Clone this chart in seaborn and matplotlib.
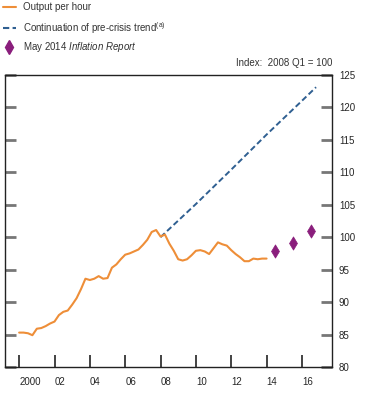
import numpy as np
import pandas as pd
import matplotlib.pyplot as plt
import seaborn as sns
from matplotlib.lines import Line2D

# Output per hour, quarterly 2000 Q1 - 2014 Q1 (index 2008 Q1 = 100)
output_per_hour = [
    85.3, 85.3, 85.2, 84.9,
    85.9, 86.0, 86.3, 86.7,
    87.0, 88.0, 88.5, 88.7,
    89.6, 90.6, 92.0, 93.6,
    93.4, 93.6, 94.0, 93.6,
    93.7, 95.3, 95.8, 96.6,
    97.3, 97.5, 97.8, 98.1,
    98.8, 99.6, 100.8, 101.1,
    100.1, 100.4, 99.0, 97.9,
    96.6, 96.4, 96.6, 97.2,
    97.9, 98.0, 97.8, 97.4,
    98.3, 99.2, 98.9, 98.7,
    98.0, 97.4, 96.9, 96.3,
    96.3, 96.7, 96.6, 96.7,
    96.7,
]
quarters = [2000 + i * 0.25 for i in range(len(output_per_hour))]

# continuation of pre-crisis trend
trend_years = [2008.0, 2010.0, 2012.0, 2014.0, 2016.0, 2016.8]
trend_values = [100.0, 105.1, 110.4, 115.8, 121.0, 123.1]

# May 2014 Inflation Report projections
ir_years = [2014.5, 2015.5, 2016.5]
ir_values = [97.9, 99.1, 101.0]

year_ticks = [2000, 2002, 2004, 2006, 2008, 2010, 2012, 2014, 2016]
year_labels = ["2000", "02", "04", "06", "08", "10", "12", "14", "16"]

orange = "#EE8E38"
blue = "#2F5F91"
purple = "#8A1E7C"

sns.set_style("ticks")
plt.rcParams["font.family"] = ["Liberation Sans", "DejaVu Sans"]
plt.rcParams["mathtext.fontset"] = "custom"
plt.rcParams["mathtext.rm"] = "Liberation Sans"
plt.rcParams["mathtext.it"] = "Liberation Sans:italic"

df_out = pd.DataFrame({"year": quarters, "value": output_per_hour})
df_trend = pd.DataFrame({"year": trend_years, "value": trend_values})
df_ir = pd.DataFrame({"year": ir_years, "value": ir_values})

W, H = 369, 394
fig = plt.figure(figsize=(W / 100, H / 100), dpi=100)
ax = fig.add_axes([0.0136, 0.0685, 0.886, 0.7415])

sns.lineplot(data=df_trend, x="year", y="value", ax=ax, color=blue,
             linewidth=1.4, dashes=False, linestyle=(0, (3, 1.6)))
sns.lineplot(data=df_out, x="year", y="value", ax=ax, color=orange,
             linewidth=1.5)
sns.scatterplot(data=df_ir, x="year", y="value", ax=ax, color=purple,
                marker="d", s=45, edgecolor=purple, zorder=5)

ax.set_xlim(1999.2, 2017.7)
ax.set_ylim(80, 125)
ax.set_xlabel("")
ax.set_ylabel("")

ax.set_xticks(year_ticks)
ax.set_xticklabels(year_labels, ha="left")
ax.tick_params(axis="x", direction="in", length=9, width=1.2, color="#222222",
               labelsize=7, pad=7)

ax.set_yticks(range(80, 126, 5))
ax.yaxis.tick_right()
ax.tick_params(axis="y", which="both", direction="in", length=8, width=2,
               color="#777777", labelsize=7, pad=5, left=True, right=True,
               labelleft=False, labelright=True)

for s in ax.spines.values():
    s.set_visible(True)
    s.set_linewidth(1.0)
    s.set_color("#222222")

ax.text(1.0, 1.025, "Index:  2008 Q1 = 100", transform=ax.transAxes,
        ha="right", va="bottom", fontsize=7, color="#333333")

# legend drawn by hand (pixel rows of the original key)
rows = [7, 28, 47]
labels = [
    "Output per hour",
    "Continuation of pre-crisis trend$^{\\rm (a)}$",
    "May 2014 $\\it{Inflation\\ Report}$",
]
fig.add_artist(Line2D([3 / W, 16 / W], [1 - rows[0] / H] * 2, color=orange,
                      linewidth=1.5))
fig.add_artist(Line2D([3 / W, 16 / W], [1 - rows[1] / H] * 2, color=blue,
                      linewidth=1.5, linestyle=(0, (3, 1.6))))
fig.add_artist(Line2D([9 / W], [1 - rows[2] / H], color=purple, marker="d",
                      markersize=7, linestyle="none"))
for r, lab in zip(rows, labels):
    fig.text(23 / W, 1 - r / H, lab, ha="left", va="center", fontsize=7,
             color="#333333")

plt.savefig("out.png", dpi=100)
